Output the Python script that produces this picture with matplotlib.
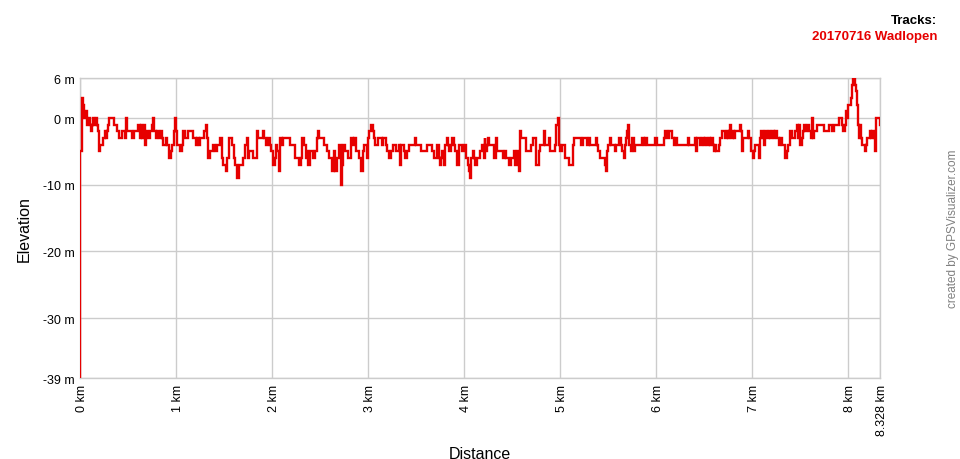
import matplotlib
matplotlib.use("Agg")
import matplotlib.pyplot as plt
import matplotlib.transforms as mtransforms

plt.rcParams['font.family'] = ['Liberation Sans', 'DejaVu Sans']

# ===== track data: distance (km) and elevation (m)
dist_0 = [0.000, 0.001, 0.003, 0.017, 0.028, 0.042, 0.056, 0.070, 0.087, 0.104,
          0.115, 0.122, 0.132, 0.146, 0.163, 0.177, 0.191, 0.198, 0.212, 0.236,
          0.260, 0.271, 0.281, 0.292, 0.302, 0.351, 0.389, 0.403, 0.434, 0.469,
          0.483, 0.493, 0.545, 0.559, 0.608, 0.625, 0.636, 0.649, 0.663, 0.677,
          0.691, 0.712, 0.729, 0.750, 0.760, 0.771, 0.792, 0.806, 0.826, 0.844,
          0.858, 0.868, 0.892, 0.910, 0.927, 0.945, 0.955, 0.976, 0.986, 0.997,
          1.007, 1.045, 1.059, 1.073]
elev_0 = [-39, -23, -5, 3, 2, 0, 1, -1, 0, -1,
          -2, -1, 0, -1, 0, -1, -2, -5, -4, -3,
          -2, -3, -2, -1, 0, -1, -2, -3, -2, -3,
          0, -2, -3, -2, -1, -3, -1, -3, -1, -4,
          -2, -3, -2, -1, 0, -2, -3, -2, -3, -2,
          -3, -4, -3, -4, -6, -5, -4, -2, 0, -2,
          -4, -5, -4, -2]

dist_1 = [1.094, 1.129, 1.146, 1.181, 1.209, 1.223, 1.240, 1.250, 1.292, 1.309,
          1.320, 1.337, 1.355, 1.389, 1.407, 1.431, 1.459, 1.476, 1.493, 1.518,
          1.528, 1.556, 1.587, 1.598, 1.615, 1.632, 1.650, 1.702, 1.719, 1.737,
          1.747, 1.761, 1.796, 1.841, 1.858, 1.900, 1.917, 1.934, 1.952, 1.973,
          1.990, 2.007, 2.025, 2.039, 2.053, 2.073, 2.087, 2.101, 2.118]
elev_1 = [-3, -2, -2, -3, -4, -3, -4, -3, -2, -1,
          -3, -6, -5, -4, -5, -4, -3, -6, -7, -8,
          -6, -3, -4, -6, -7, -9, -7, -6, -4, -3,
          -6, -5, -6, -2, -3, -2, -3, -4, -3, -4,
          -5, -7, -6, -4, -5, -8, -3, -4, -3]

dist_2 = [2.135, 2.187, 2.239, 2.281, 2.302, 2.316, 2.333, 2.350, 2.368, 2.378,
          2.396, 2.430, 2.448, 2.462, 2.475, 2.493, 2.545, 2.576, 2.594, 2.628,
          2.639, 2.656, 2.673, 2.701, 2.715, 2.725, 2.743, 2.760, 2.795, 2.823,
          2.840, 2.857, 2.871, 2.906, 2.923, 2.941, 2.955, 2.989, 2.996, 3.010,
          3.028, 3.045, 3.059, 3.073, 3.107, 3.142, 3.159]
elev_2 = [-3, -4, -6, -7, -6, -3, -4, -6, -5, -7,
          -5, -6, -5, -3, -2, -3, -4, -5, -6, -8,
          -5, -8, -6, -4, -10, -7, -4, -5, -6, -3,
          -4, -3, -5, -6, -8, -5, -4, -6, -3, -2,
          -1, -2, -3, -4, -3, -4, -3]

dist_3 = [3.177, 3.184, 3.201, 3.219, 3.236, 3.254, 3.288, 3.323, 3.333, 3.344,
          3.372, 3.385, 3.403, 3.420, 3.483, 3.497, 3.549, 3.611, 3.663, 3.681,
          3.715, 3.733, 3.743, 3.757, 3.767, 3.785, 3.802, 3.816, 3.830, 3.844,
          3.858, 3.872, 3.889, 3.906, 3.924, 3.941, 3.976, 3.993, 4.021, 4.038,
          4.052, 4.063, 4.073, 4.087, 4.101, 4.115, 4.132, 4.167, 4.184, 4.201,
          4.212]
elev_3 = [-3, -4, -5, -6, -5, -4, -5, -4, -7, -4,
          -5, -6, -5, -4, -3, -4, -5, -4, -5, -6,
          -4, -6, -7, -6, -5, -7, -4, -3, -4, -5,
          -4, -3, -4, -5, -7, -4, -5, -4, -6, -7,
          -8, -9, -6, -5, -6, -7, -6, -5, -4, -6,
          -3]

dist_4 = [4.219, 4.237, 4.247, 4.261, 4.313, 4.330, 4.344, 4.400, 4.421, 4.434,
          4.469, 4.487, 4.518, 4.532, 4.546, 4.570, 4.580, 4.594, 4.643, 4.698,
          4.716, 4.747, 4.775, 4.792, 4.827, 4.844, 4.879, 4.896, 4.948, 4.959,
          4.973, 4.983, 5.000, 5.018, 5.052, 5.087, 5.132, 5.146, 5.216, 5.233]
elev_4 = [-5, -4, -3, -4, -6, -3, -5, -6, -5, -6,
          -7, -6, -5, -7, -5, -8, -2, -3, -5, -4,
          -3, -7, -5, -4, -2, -4, -3, -5, -4, -1,
          0, -4, -5, -4, -6, -7, -4, -3, -4, -3]

dist_5 = [5.260, 5.278, 5.295, 5.312, 5.375, 5.385, 5.392, 5.416, 5.462, 5.475,
          5.486, 5.496, 5.514, 5.531, 5.566, 5.580, 5.614, 5.632, 5.646, 5.659,
          5.673, 5.684, 5.694, 5.705, 5.719, 5.733, 5.746, 5.764, 5.781, 5.850,
          5.868, 5.885, 5.903, 5.989, 6.007, 6.080, 6.094, 6.111, 6.128, 6.163,
          6.180, 6.198, 6.215]
elev_5 = [-3, -4, -3, -4, -3, -4, -5, -6, -7, -8,
          -5, -4, -3, -4, -5, -4, -3, -4, -5, -6,
          -4, -3, -2, -1, -4, -5, -3, -5, -4, -3,
          -4, -3, -4, -3, -4, -3, -2, -3, -2, -3,
          -4, -3, -4]

dist_6 = [6.302, 6.330, 6.344, 6.406, 6.413, 6.427, 6.458, 6.476, 6.493, 6.510,
          6.528, 6.545, 6.563, 6.573, 6.587, 6.597, 6.615, 6.622, 6.649, 6.667,
          6.684, 6.719, 6.736, 6.747, 6.761, 6.771, 6.781, 6.795, 6.809, 6.823,
          6.872, 6.885, 6.892, 6.903, 6.955, 6.969, 6.990, 7.004, 7.017, 7.031,
          7.066, 7.076, 7.090, 7.108, 7.118, 7.135, 7.153, 7.170, 7.188, 7.205,
          7.222, 7.240, 7.257, 7.274, 7.292, 7.309]
elev_6 = [-4, -3, -4, -3, -5, -3, -4, -3, -4, -3,
          -4, -3, -4, -3, -4, -5, -4, -5, -4, -3,
          -2, -3, -2, -3, -2, -1, -3, -2, -3, -2,
          -1, -2, -5, -3, -2, -3, -5, -6, -5, -4,
          -6, -3, -2, -3, -4, -2, -3, -2, -3, -2,
          -3, -2, -3, -4, -3, -4]

dist_7 = [7.327, 7.344, 7.362, 7.372, 7.386, 7.396, 7.414, 7.448, 7.459, 7.473,
          7.483, 7.497, 7.511, 7.525, 7.539, 7.552, 7.570, 7.587, 7.605, 7.615,
          7.629, 7.643, 7.674, 7.743, 7.796, 7.830, 7.848, 7.900, 7.934, 7.945,
          7.959, 7.969, 7.983, 7.997, 8.025, 8.035, 8.046, 8.066, 8.077, 8.087,
          8.094, 8.105, 8.115, 8.129, 8.139, 8.167, 8.178, 8.191, 8.219, 8.233,
          8.247, 8.261, 8.275, 8.289, 8.317, 8.328]
elev_7 = [-4, -6, -5, -4, -3, -2, -3, -2, -1, -3,
          -1, -4, -3, -2, -1, -2, -1, -2, -3, 0,
          -3, -2, -1, -2, -1, -2, -1, 0, -1, -2,
          -1, 1, 0, 2, 3, 5, 6, 5, 4, 2,
          -1, -3, -1, -3, -4, -5, -4, -3, -2, -3,
          -2, -3, -5, 0, 0, -1]

dist_km = dist_0 + dist_1 + dist_2 + dist_3 + dist_4 + dist_5 + dist_6 + dist_7
elev_m = elev_0 + elev_1 + elev_2 + elev_3 + elev_4 + elev_5 + elev_6 + elev_7

total_km = 8.328
y_ticks = [6, 0, -10, -20, -30, -39]
x_ticks = [0, 1, 2, 3, 4, 5, 6, 7, 8, total_km]
x_labels = ['0 km', '1 km', '2 km', '3 km', '4 km', '5 km', '6 km', '7 km',
            '8 km', '8.328 km']
track_name = '20170716 Wadlopen'

# ===== figure
fig = plt.figure(figsize=(9.6, 4.6), dpi=100)
ax = fig.add_axes([80/960, 1 - 379/460, 800/960, 300/460])

ax.plot(dist_km, elev_m, color='#e60000', linewidth=1.7,
        drawstyle='steps-post', solid_joinstyle='miter', zorder=3)

ax.set_xlim(0, total_km)
ax.set_ylim(-39, 6)
ax.set_xticks(x_ticks)
ax.set_xticklabels(x_labels, rotation=90, fontsize=9)
ax.set_yticks(y_ticks)
ax.set_yticklabels([str(v) + ' m' for v in y_ticks], fontsize=9)
ax.tick_params(length=0, pad=4)
ax.grid(True, color='#cccccc', linewidth=1)
ax.set_axisbelow(True)
for sp in ax.spines.values():
    sp.set_color('#cccccc')
    sp.set_linewidth(1)

# nudge rotated km labels so they sit centred on their grid lines
shift = mtransforms.ScaledTranslation(2/100, 0, fig.dpi_scale_trans)
for lbl in ax.get_xticklabels():
    lbl.set_transform(lbl.get_transform() + shift)

ax.set_xlabel('Distance', fontsize=11.5, labelpad=8)
ax.set_ylabel('Elevation', fontsize=11.5, labelpad=8)

fig.text(937/960, 1 - 21/460, 'Tracks:', ha='right', va='center',
         fontsize=9.5, fontweight='bold', color='black')
fig.text(937/960, 1 - 37/460, track_name, ha='right', va='center',
         fontsize=9.5, fontweight='bold', color='#e60000')
fig.text(953/960, 1 - 229/460, 'created by GPSVisualizer.com', rotation=90,
         ha='center', va='center', fontsize=8.5, color='#808080')

fig.savefig('out.png', dpi=100)
